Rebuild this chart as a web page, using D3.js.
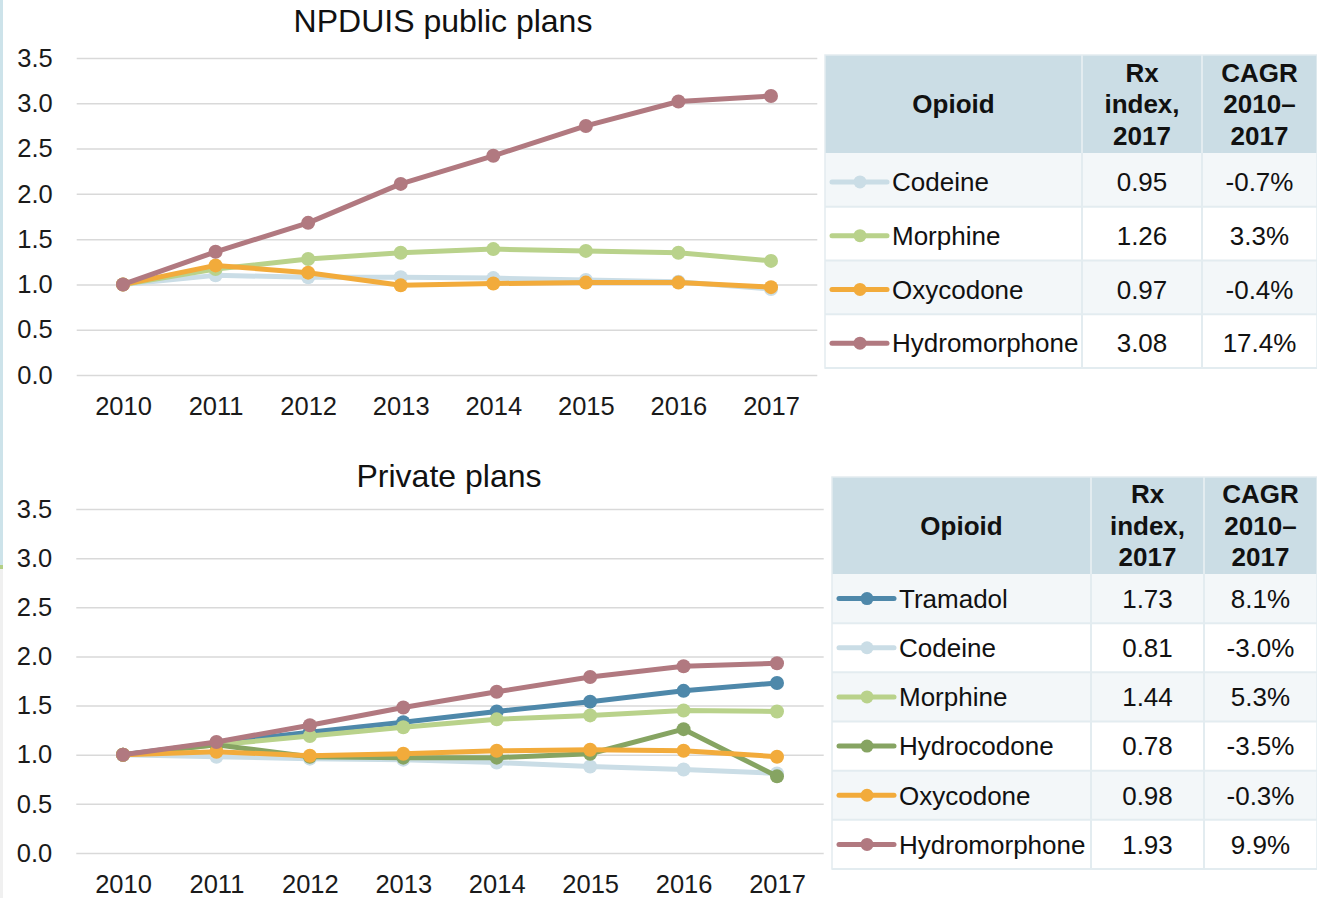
<!DOCTYPE html>
<html lang="en">
<head>
<meta charset="UTF-8">
<title>Opioid Rx index</title>
<script src="https://cdn.jsdelivr.net/npm/d3@7"></script>
<style>
  body { margin: 0; background: #fff; }
  svg { display: block; font-family: "Liberation Sans", Arial, sans-serif; }
  .grid line { stroke: #d9d9d9; stroke-width: 1.5; }
  .axis text { font-size: 25.5px; fill: #1a1a1a; }
  .axis .domain { display: none; }
</style>
</head>
<body>
<div id="chart"></div>
<script>
// x categories and y ticks
const years = ["2010", "2011", "2012", "2013", "2014", "2015", "2016", "2017"];
const yTicks = [0, 0.5, 1, 1.5, 2, 2.5, 3, 3.5];

// NPDUIS public plans
const publicDrugs = ["Codeine", "Morphine", "Oxycodone", "Hydromorphone"];
const publicCodeine = [1.00, 1.10, 1.08, 1.08, 1.07, 1.05, 1.03, 0.95];
const publicMorphine = [1.00, 1.17, 1.28, 1.35, 1.39, 1.37, 1.35, 1.26];
const publicOxycodone = [1.00, 1.21, 1.13, 0.99, 1.01, 1.02, 1.02, 0.97];
const publicHydromorphone = [1.00, 1.36, 1.68, 2.11, 2.42, 2.75, 3.02, 3.08];
const publicRx = ["0.95", "1.26", "0.97", "3.08"];
const publicCagr = ["-0.7%", "3.3%", "-0.4%", "17.4%"];

// Private plans
const privateDrugs = ["Tramadol", "Codeine", "Morphine", "Hydrocodone", "Oxycodone", "Hydromorphone"];
const privateTramadol = [1.00, 1.12, 1.23, 1.33, 1.44, 1.54, 1.65, 1.73];
const privateCodeine = [1.00, 0.98, 0.96, 0.95, 0.92, 0.88, 0.85, 0.81];
const privateMorphine = [1.00, 1.10, 1.19, 1.28, 1.36, 1.40, 1.45, 1.44];
const privateHydrocodone = [1.00, 1.10, 0.98, 0.97, 0.97, 1.01, 1.26, 0.78];
const privateOxycodone = [1.00, 1.03, 0.99, 1.01, 1.04, 1.05, 1.04, 0.98];
const privateHydromorphone = [1.00, 1.13, 1.30, 1.48, 1.64, 1.79, 1.90, 1.93];
const privateRx = ["1.73", "0.81", "1.44", "0.78", "0.98", "1.93"];
const privateCagr = ["8.1%", "-3.0%", "5.3%", "-3.5%", "-0.3%", "9.9%"];

const headerLines = [["Opioid"], ["Rx", "index,", "2017"], ["CAGR", "2010–", "2017"]];

const colors = {
  Tramadol: "#4e88aa",
  Codeine: "#cadde6",
  Morphine: "#b9d28b",
  Hydrocodone: "#86a462",
  Oxycodone: "#f2ab3b",
  Hydromorphone: "#b17980"
};

const W = 1317, H = 898;
const svg = d3.select("#chart").append("svg").attr("width", W).attr("height", H);

// thin strip on the left edge
svg.append("rect").attr("x", 0).attr("y", 0).attr("width", 3).attr("height", 565).attr("fill", "#cde3ea");
svg.append("rect").attr("x", 0).attr("y", 565).attr("width", 3).attr("height", 4).attr("fill", "#b3cf86");
svg.append("rect").attr("x", 0).attr("y", 569).attr("width", 3).attr("height", H - 569).attr("fill", "#f0f0f0");

function drawChart(opt) {
  const x = d3.scalePoint().domain(years).range([opt.x0, opt.x1]);
  const step = x.step();
  const left = opt.x0 - step / 2, right = opt.x1 + step / 2;
  const y = d3.scaleLinear().domain([0, 3.5]).range([opt.yBottom, opt.yTop]);

  const g = svg.append("g");

  g.append("text")
    .attr("x", opt.titleX).attr("y", opt.titleY)
    .attr("text-anchor", "middle")
    .attr("font-size", 32).attr("fill", "#111")
    .text(opt.title);

  g.append("g")
    .attr("class", "axis grid")
    .attr("transform", `translate(${left},0)`)
    .call(d3.axisLeft(y).tickValues(yTicks).tickFormat(d3.format(".1f"))
      .tickSizeInner(-(right - left)).tickSizeOuter(0).tickPadding(24));

  g.append("g")
    .attr("class", "axis")
    .attr("transform", `translate(0,${opt.yBottom})`)
    .call(d3.axisBottom(x).tickSize(0).tickPadding(22));

  const line = d3.line().x((d, i) => x(years[i])).y(d => y(d));

  opt.drugs.forEach((name, k) => {
    const vals = opt.series[k];
    g.append("path")
      .datum(vals)
      .attr("d", line)
      .attr("fill", "none")
      .attr("stroke", colors[name])
      .attr("stroke-width", 5)
      .attr("stroke-linejoin", "round");
    g.selectAll(null)
      .data(vals)
      .enter()
      .append("circle")
      .attr("cx", (d, i) => x(years[i]))
      .attr("cy", d => y(d))
      .attr("r", 7)
      .attr("fill", colors[name]);
  });
}

function drawTable(opt) {
  const cols = opt.cols; // [left, div1, div2, right]
  const g = svg.append("g");
  const rows = d3.scaleBand().domain(opt.drugs).range([opt.headBottom, opt.bottom]);

  // header
  g.append("rect")
    .attr("x", cols[0]).attr("y", opt.top)
    .attr("width", cols[3] - cols[0]).attr("height", opt.headBottom - opt.top)
    .attr("fill", "#cbdde5");

  headerLines.forEach((lines, c) => {
    const cx = (cols[c] + cols[c + 1]) / 2;
    const cy = (opt.top + opt.headBottom) / 2;
    lines.forEach((t, j) => {
      g.append("text")
        .attr("x", cx)
        .attr("y", cy + (j - (lines.length - 1) / 2) * 31.5)
        .attr("dy", "0.36em")
        .attr("text-anchor", "middle")
        .attr("font-size", 26).attr("font-weight", "bold").attr("fill", "#111")
        .text(t);
    });
  });

  // body rows
  opt.drugs.forEach((name, i) => {
    const ry = rows(name), rh = rows.bandwidth();
    const cy = ry + rh / 2 + opt.shift;
    g.append("rect")
      .attr("x", cols[0]).attr("y", ry)
      .attr("width", cols[3] - cols[0]).attr("height", rh)
      .attr("fill", i % 2 === 0 ? "#f3f7f9" : "#ffffff");

    const lx = cols[0] + 7;
    g.append("line")
      .attr("x1", lx).attr("x2", lx + 55)
      .attr("y1", cy).attr("y2", cy)
      .attr("stroke", colors[name]).attr("stroke-width", 5).attr("stroke-linecap", "round");
    g.append("circle")
      .attr("cx", lx + 28).attr("cy", cy).attr("r", 6.5)
      .attr("fill", colors[name]);

    g.append("text")
      .attr("x", lx + 60).attr("y", cy).attr("dy", "0.36em")
      .attr("font-size", 26).attr("fill", "#111")
      .text(name);
    g.append("text")
      .attr("x", (cols[1] + cols[2]) / 2).attr("y", cy).attr("dy", "0.36em")
      .attr("text-anchor", "middle")
      .attr("font-size", 26).attr("fill", "#111")
      .text(opt.rx[i]);
    g.append("text")
      .attr("x", (cols[2] + cols[3]) / 2).attr("y", cy).attr("dy", "0.36em")
      .attr("text-anchor", "middle")
      .attr("font-size", 26).attr("fill", "#111")
      .text(opt.cagr[i]);
  });

  // cell borders
  const bc = "#e3ecf0";
  [cols[1], cols[2]].forEach(cx => {
    g.append("line").attr("x1", cx).attr("x2", cx)
      .attr("y1", opt.top).attr("y2", opt.bottom)
      .attr("stroke", bc).attr("stroke-width", 2);
  });
  opt.drugs.forEach(name => {
    const ry = rows(name) + rows.bandwidth();
    g.append("line").attr("x1", cols[0]).attr("x2", cols[3])
      .attr("y1", ry).attr("y2", ry)
      .attr("stroke", bc).attr("stroke-width", 2);
  });
  g.append("rect")
    .attr("x", cols[0]).attr("y", opt.top)
    .attr("width", cols[3] - cols[0]).attr("height", opt.bottom - opt.top)
    .attr("fill", "none").attr("stroke", bc).attr("stroke-width", 1.5);
}

drawChart({
  title: "NPDUIS public plans", titleX: 443, titleY: 32,
  x0: 123, x1: 771, yTop: 58, yBottom: 375,
  drugs: publicDrugs,
  series: [publicCodeine, publicMorphine, publicOxycodone, publicHydromorphone]
});

drawChart({
  title: "Private plans", titleX: 449, titleY: 487,
  x0: 123, x1: 777, yTop: 509, yBottom: 853,
  drugs: privateDrugs,
  series: [privateTramadol, privateCodeine, privateMorphine, privateHydrocodone, privateOxycodone, privateHydromorphone]
});

drawTable({
  cols: [825, 1082, 1202, 1317], top: 55, headBottom: 153, bottom: 368, shift: 2,
  drugs: publicDrugs, rx: publicRx, cagr: publicCagr
});

drawTable({
  cols: [832, 1091, 1204, 1317], top: 477, headBottom: 574, bottom: 869, shift: 0,
  drugs: privateDrugs, rx: privateRx, cagr: privateCagr
});
</script>
</body>
</html>
